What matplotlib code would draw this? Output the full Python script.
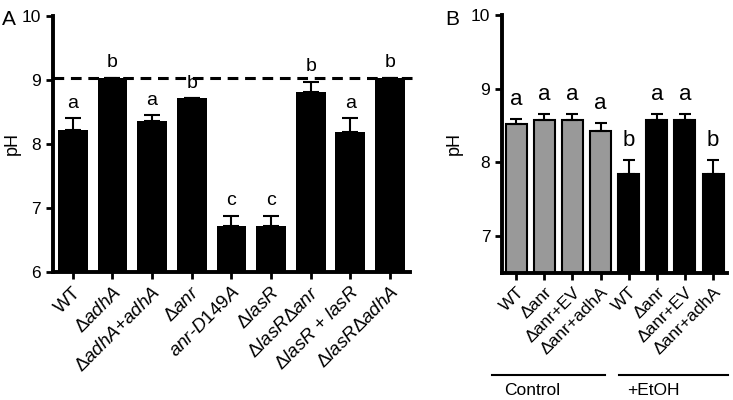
import numpy as np
import matplotlib.pyplot as plt
from matplotlib.transforms import blended_transform_factory

plt.rcParams['font.family'] = ['Liberation Sans', 'DejaVu Sans']
plt.rcParams['mathtext.fontset'] = 'custom'
plt.rcParams['mathtext.rm'] = 'Liberation Sans'
plt.rcParams['mathtext.it'] = 'Liberation Sans:italic'

# Panel A data
a_labels = ['WT', r'$\Delta\mathit{adhA}$', r'$\Delta\mathit{adhA}$+$\mathit{adhA}$',
            r'$\Delta\mathit{anr}$', r'$\mathit{anr}$-$\mathit{D149A}$', r'$\Delta\mathit{lasR}$',
            r'$\Delta\mathit{lasR}\Delta\mathit{anr}$', r'$\Delta\mathit{lasR}$ + $\mathit{lasR}$',
            r'$\Delta\mathit{lasR}\Delta\mathit{adhA}$']
a_mean = [8.21, 9.03, 8.36, 8.71, 6.72, 6.72, 8.81, 8.18, 9.03]
a_err = [0.19, 0.0, 0.09, 0.0, 0.16, 0.16, 0.16, 0.22, 0.0]
a_letters = ['a', 'b', 'a', 'b', 'c', 'c', 'b', 'a', 'b']
start_ph = 9.03

# Panel B data
b_labels = ['WT', 'Δanr', 'Δanr+EV', 'Δanr+adhA'] * 2
b_mean = [8.52, 8.57, 8.57, 8.43, 7.84, 8.57, 8.57, 7.84]
b_err = [0.07, 0.09, 0.09, 0.10, 0.19, 0.09, 0.09, 0.19]
b_letters = ['a', 'a', 'a', 'a', 'b', 'a', 'a', 'b']
b_colors = ['#999999'] * 4 + ['black'] * 4
groups = ['Control', '+EtOH']

fig = plt.figure(figsize=(7.33, 4.0), dpi=100)
axA = fig.add_axes([0.0723, 0.32, 0.4867, 0.641])
axB = fig.add_axes([0.685, 0.3175, 0.307, 0.6455])

def style(ax):
    for s in ['top', 'right']:
        ax.spines[s].set_visible(False)
    for s in ['left', 'bottom']:
        ax.spines[s].set_linewidth(2.8)
    ax.tick_params(width=2, length=5, labelsize=12.5)

# ---- A
xa = np.arange(len(a_mean))
axA.bar(xa, a_mean, width=0.75, color='black', zorder=2)
axA.errorbar(xa, a_mean, yerr=[np.zeros(len(a_err)), a_err], fmt='none',
             ecolor='black', elinewidth=1.5, capsize=6, capthick=1.5, zorder=3)
for x, m, e, t in zip(xa, a_mean, a_err, a_letters):
    axA.text(x, m + e + 0.1, t, ha='center', va='bottom', fontsize=14)
axA.axhline(start_ph, xmin=0, xmax=1.02, color='black', lw=2.2,
            ls=(0, (3.5, 2.2)), clip_on=False, zorder=4)
axA.set_xlim(-0.5, 8.5)
axA.set_ylim(6, 10)
axA.set_yticks([6, 7, 8, 9, 10])
axA.set_xticks(xa)
style(axA)
axA.set_xticklabels(a_labels, rotation=45, ha='right', rotation_mode='anchor', fontsize=13.5)
axA.set_ylabel('pH', fontsize=13, labelpad=1)

# ---- B
xb = np.arange(len(b_mean))
axB.bar(xb, b_mean, width=0.75, color=b_colors, edgecolor='black', linewidth=1.5, zorder=2)
axB.errorbar(xb, b_mean, yerr=[np.zeros(len(b_err)), b_err], fmt='none',
             ecolor='black', elinewidth=1.5, capsize=4, capthick=1.5, zorder=3)
for x, m, e, t in zip(xb, b_mean, b_err, b_letters):
    axB.text(x, m + e + 0.12, t, ha='center', va='bottom', fontsize=16)
axB.set_xlim(-0.5, 7.5)
axB.set_ylim(6.5, 10)
axB.set_yticks([7, 8, 9, 10])
axB.set_xticks(xb)
style(axB)
axB.set_xticklabels(b_labels, rotation=45, ha='right', rotation_mode='anchor', fontsize=12.5)
axB.set_ylabel('pH', fontsize=13, labelpad=6)

tr = blended_transform_factory(axB.transData, axB.transAxes)
for i, g in enumerate(groups):
    lo = i * 4 - (0.86 if i == 0 else 0.34)
    hi = i * 4 + 3 + (0.17 if i == 0 else 0.54)
    axB.plot([lo, hi], [-0.395, -0.395], color='black', lw=1.5, transform=tr, clip_on=False)
    axB.text(i * 4 + (0.57 if i == 0 else 0.87), -0.455, g, transform=tr,
             ha='center', va='center', fontsize=12.5)

fig.text(0.003, 0.975, 'A', fontsize=15, va='top')
fig.text(0.607, 0.975, 'B', fontsize=15, va='top')

fig.savefig('out.png', dpi=100)
